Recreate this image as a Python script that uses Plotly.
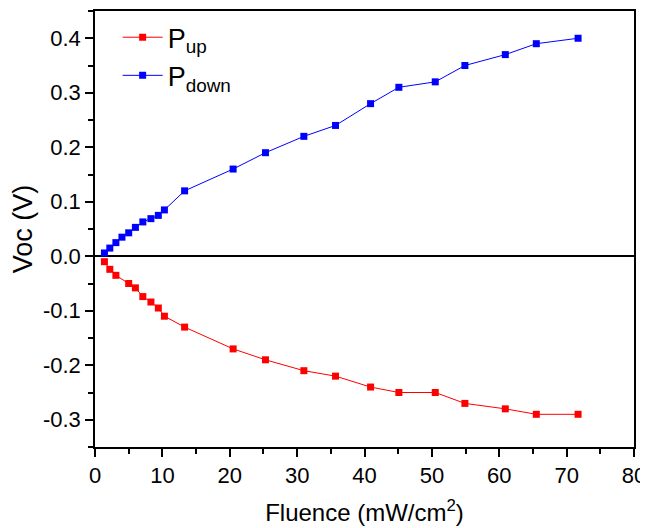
import plotly.graph_objects as go

fluence_down = [1.4, 2.2, 3.1, 4.0, 5.0, 6.0, 7.1, 8.3, 9.4, 10.3, 13.3,
                20.5, 25.3, 31.0, 35.7, 40.9, 45.1, 50.5, 54.9, 60.9, 65.5, 71.7]
voc_down = [0.006, 0.015, 0.025, 0.035, 0.043, 0.053, 0.063, 0.069, 0.075, 0.085, 0.12,
            0.16, 0.19, 0.22, 0.24, 0.28, 0.31, 0.32, 0.35, 0.37, 0.39, 0.40]

fluence_up = [1.4, 2.2, 3.1, 5.0, 6.0, 7.1, 8.3, 9.4, 10.3, 13.3,
              20.5, 25.3, 31.0, 35.7, 40.9, 45.1, 50.5, 54.9, 60.9, 65.5, 71.7]
voc_up = [-0.01, -0.024, -0.035, -0.05, -0.058, -0.074, -0.084, -0.095, -0.11, -0.13,
          -0.17, -0.19, -0.21, -0.22, -0.24, -0.25, -0.25, -0.27, -0.28, -0.29, -0.29]

x_ticks = [0, 10, 20, 30, 40, 50, 60, 70, 80]
y_ticks = [-0.3, -0.2, -0.1, 0.0, 0.1, 0.2, 0.3, 0.4]

FONT = "Liberation Sans, Arial, sans-serif"

fig = go.Figure()
fig.add_trace(go.Scatter(
    x=fluence_up, y=voc_up, mode="lines+markers", name="P<sub>up</sub>",
    line=dict(color="#ff0000", width=1),
    marker=dict(symbol="square", size=7, color="#ff0000"),
))
fig.add_trace(go.Scatter(
    x=fluence_down, y=voc_down, mode="lines+markers", name="P<sub>down</sub>",
    line=dict(color="#0000ff", width=1),
    marker=dict(symbol="square", size=7, color="#0000ff"),
))

fig.update_layout(
    width=640, height=520,
    margin=dict(l=87, r=14, t=3, b=81, autoexpand=False),
    paper_bgcolor="white", plot_bgcolor="white",
    font=dict(family=FONT, color="black", size=22),
    showlegend=True,
    legend=dict(x=0.042, y=0.995, xanchor="left", yanchor="top",
                font=dict(size=27, family=FONT), bgcolor="rgba(0,0,0,0)",
                tracegroupgap=0, itemwidth=40),
    xaxis=dict(
        range=[0, 80], tickvals=x_ticks, ticktext=[str(v) for v in x_ticks],
        showgrid=False, zeroline=False, automargin=False,
        showline=True, linecolor="black", linewidth=1.5, mirror=True,
        ticks="outside", ticklen=8, tickwidth=1.5, tickcolor="black",
        minor=dict(ticks="outside", ticklen=5, tickwidth=1.5, tickcolor="black", dtick=5, showgrid=False),
        tickfont=dict(size=22),
        title=dict(text="Fluence (mW/cm<sup>2</sup>)", font=dict(size=24), standoff=17),
    ),
    yaxis=dict(
        range=[-0.35, 0.45], tickvals=y_ticks, ticktext=[f"{v:.1f}" for v in y_ticks],
        showgrid=False, zeroline=True, zerolinecolor="black", zerolinewidth=1.5,
        showline=True, linecolor="black", linewidth=1.5, mirror=True, automargin=False,
        ticks="outside", ticklen=8, tickwidth=1.5, tickcolor="black",
        minor=dict(ticks="outside", ticklen=5, tickwidth=1.5, tickcolor="black", dtick=0.05, showgrid=False),
        tickfont=dict(size=22),
        title=dict(text="Voc (V)", font=dict(size=27), standoff=5),
    ),
)

fig.write_html("out.html")
